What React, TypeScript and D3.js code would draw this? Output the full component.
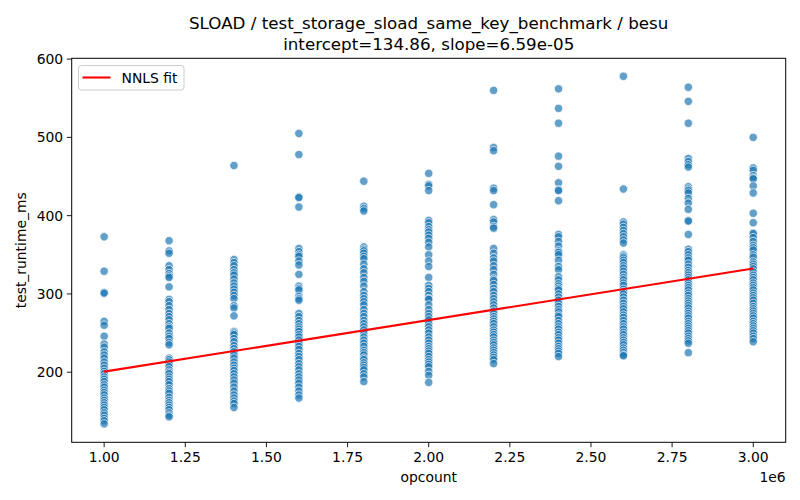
import React from "react";
import * as d3 from "d3";

const opcounts = [1.0e6, 1.2e6, 1.4e6, 1.6e6, 1.8e6, 2.0e6, 2.2e6, 2.4e6, 2.6e6, 2.8e6, 3.0e6];

const rt_1_0 = [373, 329, 302, 301, 265, 260, 246, 236, 232, 226, 222, 218, 213, 209, 205, 201, 198, 194, 191, 188, 184, 181, 177, 174, 171, 167, 164, 161, 158, 155, 152, 148, 145, 141, 138, 134];
const rt_1_2 = [368, 355, 352, 336, 331, 326, 323, 321, 309, 293, 290, 285, 280, 275, 271, 267, 262, 258, 256, 250, 246, 243, 238, 235, 218, 216, 213, 210, 207, 203, 200, 198, 194, 191, 188, 184, 179, 176, 173, 168, 164, 161, 158, 155, 152, 148, 145, 143];
const rt_1_4 = [464, 344, 340, 336, 331, 327, 324, 319, 314, 310, 306, 302, 298, 294, 285, 282, 272, 252, 250, 248, 243, 239, 234, 230, 226, 222, 218, 213, 209, 205, 202, 198, 194, 190, 186, 181, 176, 171, 167, 163, 160, 155];
const rt_1_6 = [505, 478, 424, 423, 411, 358, 354, 350, 348, 342, 337, 325, 310, 307, 305, 297, 294, 292, 275, 271, 266, 262, 258, 255, 252, 248, 245, 241, 237, 233, 229, 224, 220, 216, 211, 207, 203, 198, 194, 190, 186, 181, 176, 171, 167];
const rt_1_8 = [444, 412, 409, 406, 360, 357, 355, 352, 348, 345, 338, 332, 327, 321, 316, 310, 303, 298, 294, 290, 286, 280, 275, 271, 266, 262, 258, 254, 250, 245, 241, 237, 233, 228, 225, 222, 218, 216, 212, 209, 206, 203, 198, 194, 188];
const rt_2_0 = [454, 440, 438, 432, 394, 391, 386, 382, 379, 375, 371, 366, 360, 350, 342, 335, 321, 311, 307, 303, 298, 294, 293, 286, 280, 275, 271, 267, 262, 258, 254, 250, 245, 241, 237, 233, 230, 227, 224, 220, 216, 213, 210, 207, 201, 196, 187];
const rt_2_2 = [560, 487, 483, 435, 432, 414, 395, 392, 386, 384, 358, 352, 346, 342, 336, 331, 325, 319, 317, 312, 307, 303, 298, 294, 290, 286, 282, 278, 275, 271, 268, 265, 262, 258, 254, 251, 248, 245, 241, 238, 235, 231, 228, 225, 222, 219, 216, 211];
const rt_2_4 = [562, 537, 518, 476, 463, 442, 433, 432, 419, 376, 373, 367, 361, 355, 353, 350, 343, 335, 331, 322, 318, 313, 310, 307, 305, 300, 296, 292, 288, 284, 280, 277, 273, 271, 266, 262, 258, 255, 251, 248, 244, 241, 237, 233, 230, 227, 224, 220];
const rt_2_6 = [578, 434, 392, 389, 385, 381, 377, 373, 369, 365, 350, 348, 346, 343, 340, 336, 333, 329, 325, 321, 318, 314, 311, 306, 303, 300, 296, 292, 288, 284, 281, 277, 273, 270, 266, 262, 258, 255, 251, 248, 244, 241, 238, 235, 231, 228, 225, 222, 221];
const rt_2_8 = [564, 546, 518, 473, 469, 465, 462, 437, 434, 432, 429, 422, 416, 408, 394, 393, 376, 357, 354, 350, 346, 343, 338, 334, 330, 327, 324, 321, 318, 314, 311, 308, 305, 301, 298, 294, 291, 288, 285, 282, 278, 275, 272, 269, 265, 262, 259, 256, 253, 250, 246, 243, 240, 237, 225];
const rt_3_0 = [500, 461, 458, 451, 448, 447, 438, 429, 403, 391, 378, 377, 372, 367, 362, 359, 356, 350, 347, 341, 338, 335, 332, 328, 324, 321, 318, 314, 311, 308, 305, 301, 298, 295, 292, 288, 284, 281, 278, 275, 272, 269, 265, 262, 259, 256, 253, 250, 246, 243, 239];

const runtimes = [rt_1_0, rt_1_2, rt_1_4, rt_1_6, rt_1_8, rt_2_0, rt_2_2, rt_2_4, rt_2_6, rt_2_8, rt_3_0];

const fitIntercept = 134.86;
const fitSlope = 6.59e-05;

const xTicks = [1.0e6, 1.25e6, 1.5e6, 1.75e6, 2.0e6, 2.25e6, 2.5e6, 2.75e6, 3.0e6];
const yTicks = [200, 300, 400, 500, 600];

const titleLine1 = "SLOAD / test_storage_sload_same_key_benchmark / besu";
const titleLine2 = `intercept=${fitIntercept.toFixed(2)}, slope=${fitSlope.toExponential(2).replace("e-", "e-0")}`;

export default function App() {
  const W = 800, H = 500;
  const L = 71.7, R = 785.7, T = 58.3, B = 442.3;
  const x = d3.scaleLinear().domain([0.9e6, 3.1e6]).range([L, R]);
  const y = d3.scaleLinear().domain([110.5, 601]).range([B, T]);
  const font = "DejaVu Sans, sans-serif";

  const points: { ox: number; v: number }[] = [];
  opcounts.forEach((ox, i) => runtimes[i].forEach((v) => points.push({ ox, v })));

  const fitX = [opcounts[0], opcounts[opcounts.length - 1]];
  const line = d3
    .line<number>()
    .x((d) => x(d))
    .y((d) => y(fitIntercept + fitSlope * d));

  return (
    <svg width={W} height={H} style={{ position: "absolute", left: 0, top: 0, background: "#fff" }} fontFamily={font}>
      <rect x={0} y={0} width={W} height={H} fill="#fff" />
      {points.map((p, i) => (
        <circle key={i} cx={x(p.ox)} cy={y(p.v)} r={4.2} fill="#1f77b4" fillOpacity={0.7} stroke="#fff" strokeWidth={0.7} />
      ))}
      <path d={line(fitX) || ""} stroke="#ff0000" strokeWidth={2.1} fill="none" />
      <rect x={L} y={T} width={R - L} height={B - T} fill="none" stroke="#000" strokeWidth={1} />
      {xTicks.map((t) => (
        <g key={t}>
          <line x1={x(t)} x2={x(t)} y1={B} y2={B + 4.9} stroke="#000" strokeWidth={0.9} />
          <text x={x(t)} y={B + 20} textAnchor="middle" fontSize={13.9} fill="#000">
            {(t / 1e6).toFixed(2)}
          </text>
        </g>
      ))}
      {yTicks.map((t) => (
        <g key={t}>
          <line x1={L - 4.9} x2={L} y1={y(t)} y2={y(t)} stroke="#000" strokeWidth={0.9} />
          <text x={L - 8.5} y={y(t)} dy="0.35em" textAnchor="end" fontSize={13.9} fill="#000">
            {t}
          </text>
        </g>
      ))}
      <text x={R} y={482} textAnchor="end" fontSize={13.9} fill="#000">1e6</text>
      <text x={(L + R) / 2} y={482} textAnchor="middle" fontSize={13.9} fill="#000">opcount</text>
      <text transform={`translate(26,${(T + B) / 2}) rotate(-90)`} textAnchor="middle" fontSize={13.9} fill="#000">
        test_runtime_ms
      </text>
      <text x={(L + R) / 2} y={29} textAnchor="middle" fontSize={16.7} fill="#000">{titleLine1}</text>
      <text x={(L + R) / 2} y={50} textAnchor="middle" fontSize={16.7} fill="#000">{titleLine2}</text>
      <rect x={78.5} y={65.5} width={105.5} height={24.5} rx={3} fill="#fff" fillOpacity={0.8} stroke="#ccc" strokeWidth={1} />
      <line x1={82.5} x2={110.5} y1={77.5} y2={77.5} stroke="#ff0000" strokeWidth={2.1} />
      <text x={121.5} y={82.5} fontSize={13.9} fill="#000">NNLS fit</text>
    </svg>
  );
}
